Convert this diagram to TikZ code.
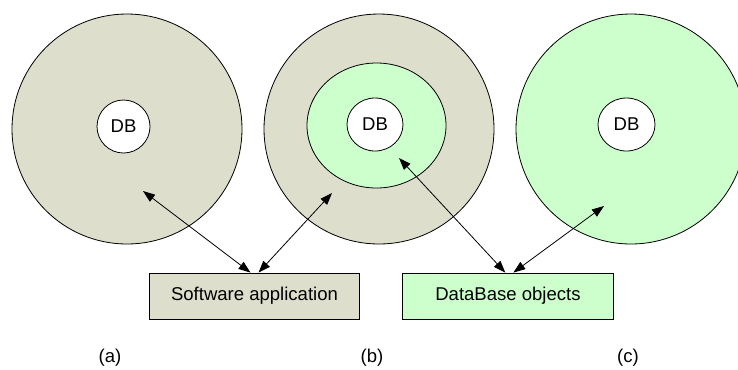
\documentclass[tikz,border=0pt]{standalone}
\usepackage{fontspec}
\setmainfont{Liberation Sans}
\usetikzlibrary{arrows.meta,positioning,shapes.geometric}
\definecolor{GrisCaqui}{RGB}{221,222,204}
\definecolor{VerdeClaro}{RGB}{204,255,204}
\tikzset{
  anillo/.style={circle, draw=black, line width=0.6pt, fill=#1, minimum size=172.5pt, inner sep=0pt},
  anillo/.default=GrisCaqui,
  capa/.style={ellipse, draw=black, line width=0.6pt, fill=VerdeClaro,
    minimum width=104.25pt, minimum height=93.75pt, inner sep=0pt},
  dbnodo/.style={ellipse, draw=black, line width=0.6pt, fill=white,
    minimum width=#1, minimum height=39.75pt, inner sep=0pt, font=\fontsize{13.9}{16}\selectfont},
  dbnodo/.default=39.75pt,
  cajabox/.style={draw=black, line width=0.6pt, fill=#1, minimum width=158pt,
    minimum height=34.5pt, inner sep=0pt, font=\fontsize{13.9}{16}\selectfont},
  rotulo/.style={font=\fontsize{13.9}{16}\selectfont},
  dblarr/.style={{Triangle[length=9pt,width=6.5pt]}-{Triangle[length=9pt,width=6.5pt]}, line width=0.6pt, black},
}
\begin{document}
\begin{tikzpicture}[x=0.75pt,y=-0.75pt]
    \useasboundingbox (0,0) rectangle (738,369);
    \clip (0,0) rectangle (738,369);
    % tres variantes
    \node[anillo] (ca) at (127,129) {};
    \node[dbnodo] (dba) at (123.5,126.5) {DB};
    \node[anillo] (cb) at (379,129) {};
    \node[capa] (ib) at (376.5,125.5) {};
    \node[dbnodo=42pt] (dbb) at (375,124.5) {DB};
    \node[anillo=VerdeClaro] (cc) at (631,129) {};
    \node[dbnodo=42.75pt] (dbc) at (626.5,124.5) {DB};
    % cajas
    \node[cajabox=GrisCaqui] (swapp) at (254.5,296) {Software application};
    \node[cajabox=VerdeClaro, right=31.5pt of swapp] (dbobj) {DataBase objects};
    % rotulos
    \node[rotulo] (la) at (110,358) {(a)};
    \node[rotulo] (lb) at (372,358) {(b)};
    \node[rotulo] (lc) at (628,358) {(c)};
    % flechas
    \coordinate (pa) at (143,191);
    \coordinate (pb) at (332,193);
    \coordinate (pbi) at (399,158);
    \coordinate (pc) at (604,206);
    \draw[dblarr] (pa) -- ([xshift=-3pt]swapp.north);
    \draw[dblarr] (pb) -- ([xshift=3pt]swapp.north);
    \draw[dblarr] (pbi) -- ([xshift=-2pt]dbobj.north);
    \draw[dblarr] (pc) -- ([xshift=4pt]dbobj.north);
  \end{tikzpicture}
\end{document}
